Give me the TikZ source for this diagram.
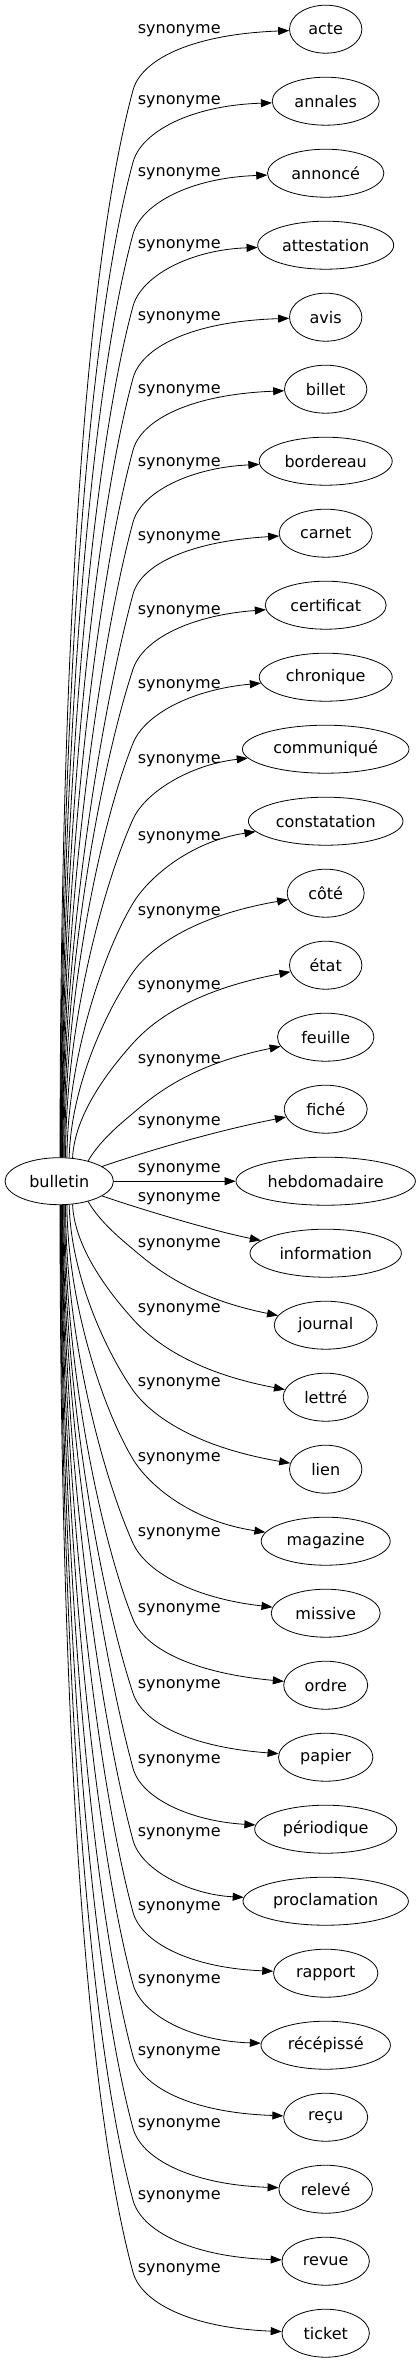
\documentclass[tikz,border=0pt]{standalone}
\usepackage{fontspec}
\setmainfont{DejaVu Sans}
\usetikzlibrary{shapes.geometric,arrows.meta}
\begin{document}
\begin{tikzpicture}[x=1pt,y=-1pt,
  word/.style={draw, ellipse, inner sep=0pt, line width=0.8pt, minimum height=48pt, font=\fontsize{16}{19}\selectfont},
  lbl/.style={inner sep=0pt, font=\fontsize{16}{19}\selectfont},
  edge/.style={draw, line width=0.8pt, -{Triangle[length=11pt,width=8pt]}}]
\useasboundingbox (0,0) rectangle (419,2363);
\node[word, minimum width=108.4pt, minimum height=47pt] (b) at (59.2,1181.2) {bulletin};
\foreach \k/\txt/\rx/\ly in {0/acte/36.2/30.7, 1/annales/53.5/101.7, 2/annoncé/58.2/174, 3/attestation/68/246, 4/avis/36.2/317.7, 5/billet/41.2/390.7, 6/bordereau/66.5/464, 7/carnet/46.5/537.7, 8/certificat/60.5/611.7, 9/chronique/66.5/686, 10/communiqué/83.3/761, 11/constatation/77.3/837.7, 12/côté/38.5/912.7, 13/état/36.2/987, 14/feuille/48.2/1061, 15/fiché/41.5/1123, 16/hebdomadaire/89.7/1170, 17/information/75.7/1198.3, 18/journal/51.5/1245, 19/lettré/42.5/1310, 20/lien/36.2/1383.3, 21/magazine/64.5/1458.3, 22/missive/54.5/1534, 23/ordre/42/1610, 24/papier/47.2/1686, 25/périodique/71/1760.7, 26/proclamation/82.7/1834, 27/rapport/52.2/1907.3, 28/récépissé/64.7/1980.7, 29/reçu/42/2052.7, 30/relevé/46.8/2125, 31/revue/43.7/2196.3, 32/ticket/43.7/2269.7}{
  \pgfmathsetmacro\yT{29.2+72*\k}
  \pgfmathsetmacro\w{2*\rx}
  \node[word, minimum width=\w pt] (t\k) at (325.7,\yT) {\txt};
  \node[lbl] (l\k) at (179.2,\ly) {synonyme};
}
\def\Harr{{0,0,76,78,79,82,70,66,64,61,61,61,61,61,61,61,61}}
\def\Sarr{{0,0,1.18,0.9,0.7,0.6,0.45,0.4,0.33,0.27,0.27,0.27,0.27,0.27,0.27,0.27,0.27}}
\def\Varr{{0,0,29.5,27.5,25.2,22.2,17.5,14.5,12.2,10.2,8.5,7.2,6.2,6.5,6.5,6.2,7.2}}
\def\Larr{{0,0,18,20,22,25,27,28,30,30,30,30,30,30,30,30,30}}
\def\Aarr{{0,20,35,60,67,72,75,77,79,81,82,83,84,85,86,87,88}}
\def\Darr{{0,0,12,2,2,1,0,0,0,0,0,0,0,0,0,0,0}}
\foreach \k in {0,...,32}{
  \pgfmathtruncatemacro\d{abs(\k-16)}
  \pgfmathtruncatemacro\sg{\k<16 ? 1 : -1}
  \ifnum\k=16
    \draw[edge] (b) -- (t16);
  \else
    \ifnum\d=1
      \pgfmathsetmacro\ya{1181.2-\sg*31.2}
      \pgfmathsetmacro\yb{1181.2-\sg*51.2}
      \draw[edge] (b) .. controls (150,\ya) and (220,\yb) .. (t\k);
    \else
      \pgfmathsetmacro\h{\Harr[\d]}
      \pgfmathsetmacro\s{\Sarr[\d]}
      \pgfmathsetmacro\v{\Varr[\d]}
      \pgfmathsetmacro\Lc{\Larr[\d]}
      \pgfmathsetmacro\a{\Aarr[\d]}
      \pgfmathsetmacro\dl{\Darr[\d]}
      \pgfmathsetmacro\uT{72*\d}
      \pgfmathsetmacro\uK{\uT-\h}
      \pgfmathsetmacro\uC{23.2+0.4*(\uK-23.2)}
      \pgfmathsetmacro\Lb{0.19*(\uK-23.2)}
      \pgfmathsetmacro\r{1/sqrt((cos(\a)/54.2)^2+(sin(\a)/23.5)^2)}
      \pgfmathsetmacro\xa{59.2+\r*cos(\a)+\dl}
      \pgfmathsetmacro\ya{1181.2-\sg*\uC}
      \pgfmathsetmacro\xb{133-\Lb*\s}
      \pgfmathsetmacro\yb{1181.2-\sg*(\uK-\Lb)}
      \pgfmathsetmacro\yk{1181.2-\sg*\uK}
      \pgfmathsetmacro\xc{133+\Lc*\s}
      \pgfmathsetmacro\yc{1181.2-\sg*(\uK+\Lc)}
      \pgfmathsetmacro\yd{1181.2-\sg*(\uT-\v+2)}
      \pgfmathsetmacro\an{\sg*\a}
      \draw[edge] (b.\an) .. controls (\xa,\ya) and (\xb,\yb) .. (133,\yk)
        .. controls (\xc,\yc) and (190,\yd) .. (t\k);
    \fi
  \fi
}
\end{tikzpicture}
\end{document}
